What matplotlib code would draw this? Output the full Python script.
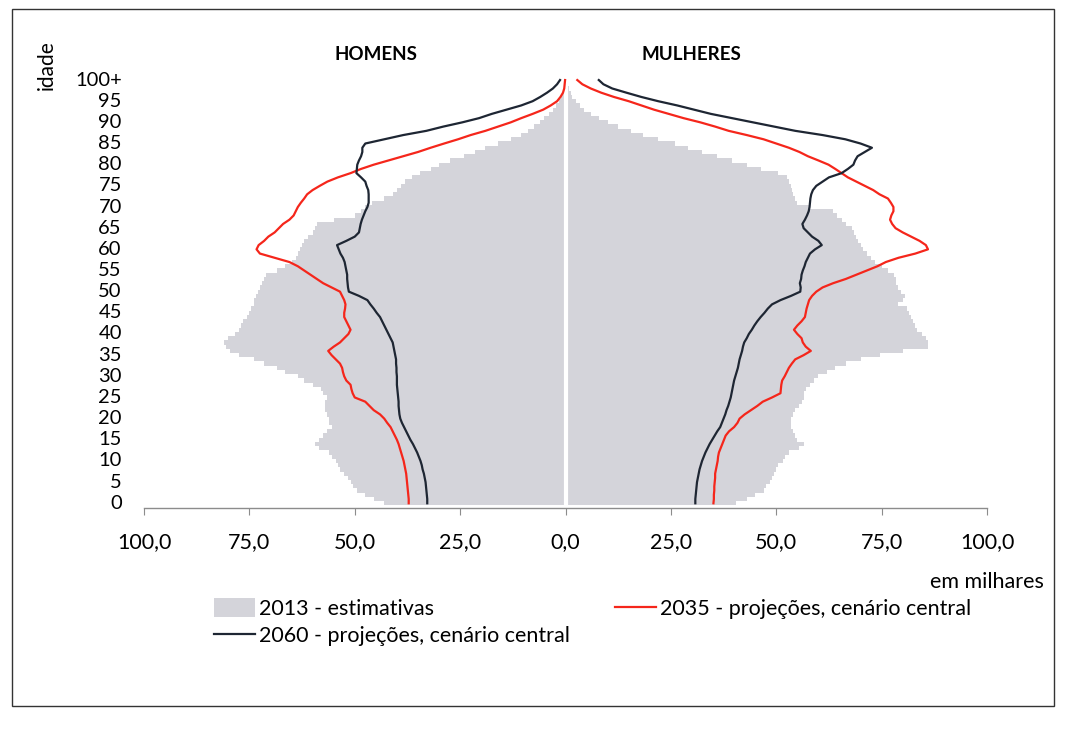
import matplotlib
matplotlib.use("Agg")
import matplotlib.pyplot as plt
from matplotlib.patches import Patch, Rectangle
from matplotlib.lines import Line2D
import numpy as np

plt.rcParams['font.family'] = ['Lato', 'DejaVu Sans']

ages = list(range(0, 101))
ytick_ages = list(range(0, 101, 5))
ytick_labels = [str(a) for a in range(0, 100, 5)] + ["100+"]
xtick_vals = [-100, -75, -50, -25, 0, 25, 50, 75, 100]
xtick_labels = ["100,0", "75,0", "50,0", "25,0", "0,0", "25,0", "50,0", "75,0", "100,0"]

# 2013 estimates (thousands), ages 0..100+
men_2013 = [43, 45.5, 47.5, 49.5, 50.5, 51, 51.5, 52.5, 53.5, 54,
            54.5, 55.5, 56, 58.5, 59.5, 58.5, 57.5, 56.5, 55.5, 56,
            56, 56.5, 57, 57, 57, 56.5, 57.5, 58, 60, 62,
            63.5, 66.5, 68.5, 71.5, 74, 77.5, 79.5, 80.5, 81, 80,
            78.5, 77.5, 77, 76.5, 75.5, 75, 74.5, 74, 74, 73.5,
            73, 72.5, 72, 71.5, 71, 68.5, 66.5, 65, 64, 63.5,
            63, 62.5, 62, 61, 60, 59.5, 59, 55, 50, 48.5,
            47.5, 46, 43, 41, 40, 39, 38, 36.5, 34.5, 32,
            30, 27.5, 24, 21.5, 19, 16, 13, 10.5, 9, 7.5,
            6, 5, 4, 3, 2.3, 1.6, 1, 0.6, 0.4, 0.3, 0.3]
women_2013 = [40.5, 43, 45, 47, 47.5, 48.5, 49, 49.5, 50, 50.5,
              51.5, 52, 53, 55.5, 56.5, 55, 54.5, 54, 53.5, 53.5,
              53.5, 54, 54.5, 55.5, 56, 56.5, 56.5, 57, 58, 59,
              60, 62, 64, 66.5, 70, 74.5, 80, 86, 86, 85.5,
              84.5, 83.5, 83, 82.5, 82, 81.5, 81, 79, 80, 80.5,
              79.5, 79, 78.5, 78.5, 78, 76.5, 75, 73.5, 72.5, 71.5,
              70.5, 70, 69.5, 69, 68.5, 68, 66.5, 65.5, 64.5, 63.5,
              58, 55, 54.5, 54, 53.8, 53.5, 53, 52.5, 50.5, 46.5,
              43, 39.5, 36, 32.5, 29, 26, 22, 18.5, 15.5, 12.5,
              10, 8, 6, 4.5, 3.5, 2.5, 1.6, 1.2, 0.9, 0.7, 0.6]

# 2035 projections, central scenario
men_2035 = [37.2, 37.2, 37.3, 37.4, 37.5, 37.6, 37.7, 37.8, 38, 38.2,
            38.4, 38.7, 39, 39.3, 39.6, 40, 40.5, 41, 41.5, 42.3,
            43, 44, 45.5, 46.5, 47.5, 50, 50.5, 50.8, 51, 52,
            52.5, 52.8, 53, 53.5, 54.5, 55.5, 56.3, 55, 53.5, 52.5,
            51.5, 51, 51.5, 52, 52.5, 52.5, 52.3, 52.2, 52.5, 53,
            53.5, 55.5, 57.5, 59, 60.5, 62, 63.5, 65.5, 69, 72.5,
            73.3, 72.8, 71.5, 70.5, 69, 68, 67, 65.5, 64.5, 64,
            63.5, 62.8, 62, 61.3, 60, 58.3, 56.5, 54, 51, 48.5,
            45.5, 42, 38.5, 35, 32, 28.8, 25.5, 22.5, 19, 16,
            13, 10.5, 7.8, 5.3, 3.5, 2, 1.2, 0.6, 0.3, 0.2, 0.1]
women_2035 = [35.1, 35.2, 35.2, 35.3, 35.3, 35.4, 35.5, 35.5, 35.7, 35.9,
              36.1, 36.2, 36.4, 36.8, 37.2, 37.6, 38, 38.8, 40, 40.8,
              41.3, 42.5, 44, 45.5, 46.8, 49, 51, 51.1, 51.2, 51.4,
              52, 52.5, 53, 53.7, 54.5, 56.5, 58.2, 57, 56.3, 56,
              55, 54.2, 55, 56, 56.8, 57, 57.2, 57.5, 57.8, 58.5,
              59.5, 61, 63.5, 66.5, 69, 71.5, 74, 76, 79, 83,
              86, 85.5, 84, 82, 80, 78.3, 77.5, 77, 77.3, 77.8,
              77.8, 77.2, 76.5, 74.5, 73, 71, 69, 67, 65.5, 64,
              62.4, 60, 57.5, 55.5, 53, 50, 47, 43, 38.7, 35.5,
              32, 28, 24.5, 21, 18, 15, 11.5, 8.5, 6, 4, 2.8]

# 2060 projections, central scenario
men_2060 = [32.8, 32.8, 32.9, 33, 33.1, 33.2, 33.4, 33.6, 33.9, 34.1,
            34.4, 34.8, 35.2, 35.7, 36.2, 36.8, 37.3, 37.8, 38.3, 38.8,
            39.2, 39.4, 39.5, 39.6, 39.6, 39.7, 39.8, 39.9, 40, 40,
            40, 40.1, 40.1, 40.2, 40.2, 40.4, 40.6, 40.8, 41, 41.5,
            42, 42.5, 43, 43.5, 44, 44.8, 45.5, 46.3, 47, 49,
            51.4, 51.6, 51.7, 51.8, 51.8, 52, 52.2, 52.4, 52.8, 53.4,
            53.8, 54.2, 52, 50, 49, 48.8, 48.6, 48.3, 47.9, 47.5,
            47, 46.7, 46.7, 46.7, 46.8, 47.2, 47.5, 48.5, 49.6, 49.5,
            49.4, 49, 48.5, 48.2, 48.2, 47.5, 43, 38.5, 33, 29,
            24.5, 20.5, 17.5, 14, 10.5, 7.8, 6, 4.4, 3, 2, 1.3]
women_2060 = [30.8, 30.8, 30.9, 31, 31.1, 31.2, 31.4, 31.6, 31.8, 32.1,
              32.4, 32.8, 33.2, 33.7, 34.2, 34.8, 35.4, 36, 36.7, 37.1,
              37.5, 37.9, 38.2, 38.6, 38.9, 39.2, 39.4, 39.6, 39.8, 40,
              40.3, 40.6, 40.9, 41.1, 41.3, 41.6, 41.9, 42.1, 42.4, 43,
              43.5, 44.2, 44.8, 45.5, 46.3, 47.2, 48, 49, 51, 53.5,
              55.7, 55.8, 55.6, 55.9, 56, 56.3, 56.7, 57, 57.5, 58,
              59.2, 60.8, 60, 58.5, 57.5, 56.5, 56.2, 56.8, 57.3, 57.7,
              57.9, 58, 58.1, 58.3, 58.7, 59.5, 61, 62.5, 65.5, 67,
              68.3, 68.7, 69.3, 71, 72.7, 70, 66.4, 61, 54.5, 49.5,
              44.5, 39.5, 34.5, 30.5, 26.5, 22, 18, 14.5, 11.1, 9, 7.9]

GRAY = "#d4d4da"
RED = "#f5261b"
DARK = "#1e2633"

W, H = 1068, 730
fig = plt.figure(figsize=(W / 100, H / 100), dpi=100)
ax = fig.add_axes([144 / W, 1 - 507.5 / H, (987 - 144) / W, (507.5 - 77.5) / H])

a = np.array(ages)
ax.barh(a, -np.array(men_2013), height=1.0, color=GRAY, linewidth=0, zorder=1)
ax.barh(a, np.array(women_2013), height=1.0, color=GRAY, linewidth=0, zorder=1)
ax.axvline(0, color="white", lw=3, zorder=2)

ax.plot(-np.array(men_2035), a, color=RED, lw=1.6, zorder=3)
ax.plot(np.array(women_2035), a, color=RED, lw=1.6, zorder=3)
ax.plot(-np.array(men_2060), a, color=DARK, lw=1.6, zorder=4)
ax.plot(np.array(women_2060), a, color=DARK, lw=1.6, zorder=4)

ax.set_xlim(-100, 100)
ax.set_ylim(-1, 100.6)
for s in ["top", "right", "left"]:
    ax.spines[s].set_visible(False)
ax.spines["bottom"].set_color("#8c8c8c")
ax.spines["bottom"].set_linewidth(1.0)

ax.set_xticks(xtick_vals)
ax.set_xticklabels(xtick_labels, fontsize=15.5)
ax.tick_params(axis="x", direction="out", length=5, color="#8c8c8c", pad=13)
ax.set_yticks(ytick_ages)
ax.set_yticklabels(ytick_labels, fontsize=14.5)
ax.tick_params(axis="y", length=0, pad=16)
for lbl in ax.get_yticklabels():
    lbl.set_verticalalignment("center")

fig.text(47 / W, 1 - 65 / H, "idade", rotation=90, ha="center", va="center", fontsize=15)
fig.text(376 / W, 1 - 55 / H, "HOMENS", ha="center", va="center", fontsize=13.5, fontweight="bold")
fig.text(691 / W, 1 - 55 / H, "MULHERES", ha="center", va="center", fontsize=13.5, fontweight="bold")
fig.text(1044 / W, 1 - 582 / H, "em milhares", ha="right", va="center", fontsize=15.5)

handles = [Patch(facecolor=GRAY, edgecolor="none"),
           Line2D([], [], color=DARK, lw=1.6),
           Line2D([], [], color=RED, lw=1.6)]
labels = ["2013 - estimativas",
          "2060 - projeções, cenário central",
          "2035 - projeções, cenário central"]
fig.legend(handles, labels, loc="upper left", bbox_to_anchor=(214 / W, 1 - 598 / H),
           ncol=2, frameon=False, fontsize=15.5, handlelength=1.9, handleheight=1.0,
           handletextpad=0.2, columnspacing=2.1, labelspacing=0.3, borderpad=0,
           borderaxespad=0)

fig.add_artist(Rectangle((12 / W, 1 - 706 / H), (1054 - 12) / W, (706 - 9) / H,
                         transform=fig.transFigure, fill=False, edgecolor="#333333", lw=1.0))

fig.savefig("out.png", dpi=100)
